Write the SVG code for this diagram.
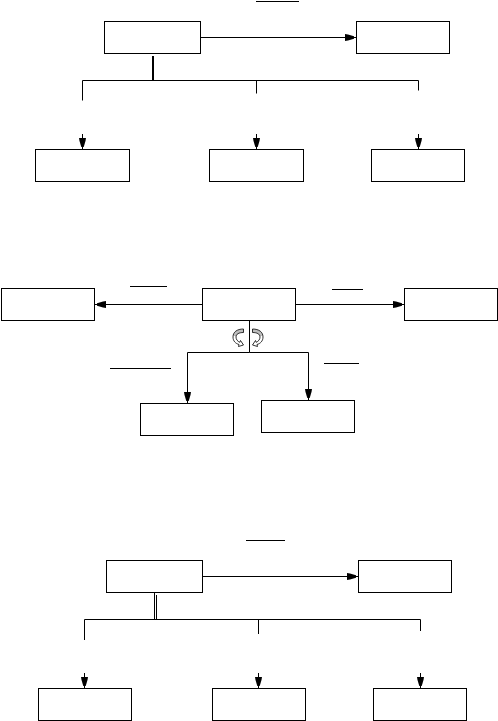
<svg xmlns="http://www.w3.org/2000/svg" width="498" height="721" viewBox="0 0 498 721">
<style>
.box{fill:#fff;stroke:#000;stroke-width:1}
.ln{fill:none;stroke:#000;stroke-width:1}
.ar{fill:none;stroke:#000;stroke-width:1;marker-end:url(#ah)}
.ul{stroke:#000;stroke-width:1}
.curl{fill:url(#cg);stroke:#000;stroke-width:0.8}
</style>
<defs>
<marker id="ah" markerUnits="userSpaceOnUse" markerWidth="12" markerHeight="8" refX="11" refY="3.5" orient="auto">
<path d="M0,0 L3,0.5 L9,2.3 L9,4.7 L3,6.5 L0,7 Z" fill="#000"/>
</marker>
<linearGradient id="cg" x1="0" y1="0" x2="0" y2="1">
<stop offset="0" stop-color="#bdbdbd"/>
<stop offset="0.38" stop-color="#bdbdbd"/>
<stop offset="0.39" stop-color="#fff"/>
<stop offset="1" stop-color="#fff"/>
</linearGradient>
<path id="curlshape" d="M243.5,329 C237,329 233,332 233,337 C233,341 235.5,343.5 239,344.5 L238.5,346.5 L243.5,345 L240.5,340.5 L239.8,342.3 C237.5,341.3 236,339.5 236,337 C236,334 239,332.5 243.5,332.5 Z"/>
</defs>

<g id="connectors">
<!-- section 1 -->
<line class="ul" x1="256" y1="1.5" x2="299" y2="1.5"/>
<path class="ar" d="M200.5,37.5 H356"/>
<line x1="153" y1="56" x2="153" y2="80.5" stroke="#000" stroke-width="2"/>
<path class="ln" d="M82.5,100.5 V80.5 H418.5 V90.5 M256.5,80.5 V93.5"/>
<path class="ar" d="M82.5,134 V149"/>
<path class="ar" d="M256.5,134 V149"/>
<path class="ar" d="M418.5,134 V149"/>
<!-- section 2 -->
<line class="ul" x1="130" y1="286.5" x2="167" y2="286.5"/>
<line class="ul" x1="332" y1="289.5" x2="363" y2="289.5"/>
<line class="ul" x1="110" y1="368.5" x2="171" y2="368.5"/>
<line class="ul" x1="324" y1="363.5" x2="359" y2="363.5"/>
<path class="ar" d="M202.5,304.5 H95"/>
<path class="ar" d="M295.5,304.5 H404"/>
<path class="ln" d="M249.5,320.5 V352.5"/>
<path class="ar" d="M249.5,352.5 H187.5 V403"/>
<path class="ar" d="M249.5,352.5 H308.5 V400"/>
<use href="#curlshape" class="curl"/>
<use href="#curlshape" class="curl" transform="matrix(-1 0 0 1 496 0)"/>
<!-- section 3 -->
<line class="ul" x1="246" y1="540.5" x2="285" y2="540.5"/>
<path class="ar" d="M202.5,576.5 H358"/>
<path class="ln" d="M154.5,592.5 V619.5 M156.5,595 V619.5"/>
<path class="ln" d="M84.5,640 V619.5 H420.5 V631 M258.5,619.5 V634"/>
<path class="ar" d="M84.5,673 V688"/>
<path class="ar" d="M258.5,673 V688"/>
<path class="ar" d="M420.5,673 V688"/>
</g>

<g id="n1a"><rect class="box" x="104.5" y="21.5" width="96" height="32"/></g>
<g id="n1b"><rect class="box" x="356.5" y="21.5" width="93" height="32"/></g>
<g id="n1c"><rect class="box" x="35.5" y="149.5" width="94" height="32"/></g>
<g id="n1d"><rect class="box" x="209.5" y="149.5" width="94" height="32"/></g>
<g id="n1e"><rect class="box" x="371.5" y="149.5" width="93" height="32"/></g>

<g id="n2l"><rect class="box" x="1.5" y="288.5" width="93" height="32"/></g>
<g id="n2m"><rect class="box" x="202.5" y="288.5" width="93" height="32"/></g>
<g id="n2r"><rect class="box" x="404.5" y="288.5" width="93" height="32"/></g>
<g id="n2bl"><rect class="box" x="140.5" y="403.5" width="93" height="32"/></g>
<g id="n2br"><rect class="box" x="261.5" y="400.5" width="93" height="32"/></g>

<g id="n3a"><rect class="box" x="106.5" y="560.5" width="96" height="32"/></g>
<g id="n3b"><rect class="box" x="358.5" y="560.5" width="93" height="32"/></g>
<g id="n3c"><rect class="box" x="38.5" y="688.5" width="93" height="32"/></g>
<g id="n3d"><rect class="box" x="212.5" y="688.5" width="93" height="32"/></g>
<g id="n3e"><rect class="box" x="373.5" y="688.5" width="93" height="32"/></g>
</svg>
